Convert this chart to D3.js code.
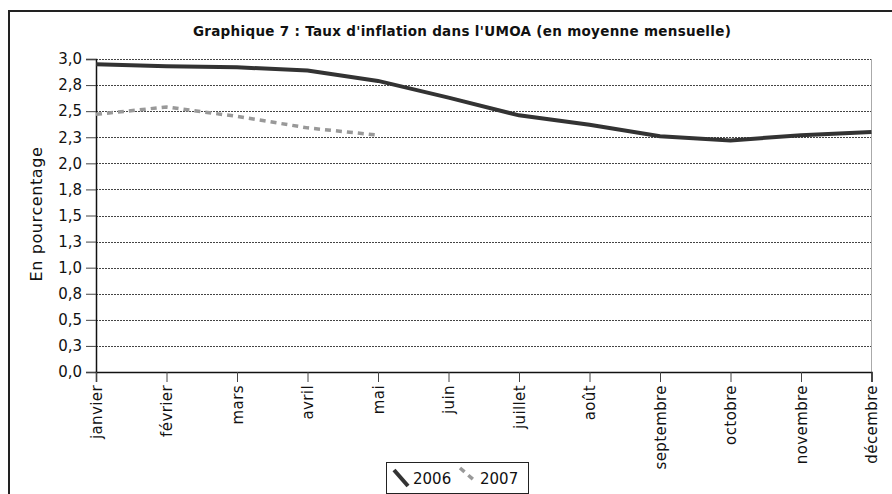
<!DOCTYPE html>
<meta charset="utf-8">
<head>
<style>
  body { margin: 0; background: #fff; }
  svg text { font-family: "DejaVu Sans", sans-serif; fill: #111; }
</style>
</head>
<body>
<script src="https://d3js.org/d3.v7.min.js"></script>
<script>

// Data
var months = ["janvier", "février", "mars", "avril", "mai", "juin", "juillet",
              "août", "septembre", "octobre", "novembre", "décembre"];
var infl2006 = [2.95, 2.93, 2.92, 2.89, 2.79, 2.63, 2.46, 2.37, 2.26, 2.22, 2.27, 2.30];
var infl2007 = [2.47, 2.54, 2.45, 2.34, 2.27];
var yTicks = [0, 0.25, 0.5, 0.75, 1, 1.25, 1.5, 1.75, 2, 2.25, 2.5, 2.75, 3];

var width = 892,
    height = 494;

var svg = d3.select("body").append("svg")
    .attr("width", width)
    .attr("height", height);

// outer frame (open to the right and bottom)
svg.append("path")
    .attr("d", "M9,494 V11 H892")
    .attr("fill", "none")
    .attr("stroke", "#222")
    .attr("stroke-width", 2);

// title
svg.append("text")
    .attr("x", 462)
    .attr("y", 36)
    .attr("text-anchor", "middle")
    .style("font-size", "13.5px")
    .style("font-weight", "bold")
    .style("letter-spacing", "0.3px")
    .text("Graphique 7 : Taux d'inflation dans l'UMOA (en moyenne mensuelle)");

var x = d3.scalePoint()
    .domain(months)
    .range([96, 871.5]);

var y = d3.scaleLinear()
    .domain([0, 3])
    .range([372, 59]);

var fmt = function(d){ return d3.format(".1f")(d).replace(".", ","); };

// gridlines
svg.append("g")
  .selectAll("line")
  .data(yTicks.slice(1))
  .enter().append("line")
    .attr("x1", 96)
    .attr("x2", 871.5)
    .attr("y1", function(d){ return Math.round(y(d)) + 0.5; })
    .attr("y2", function(d){ return Math.round(y(d)) + 0.5; })
    .attr("stroke", "#444")
    .attr("stroke-width", 1)
    .attr("stroke-dasharray", "2,1");

// right border of plot
svg.append("line")
    .attr("x1", 871.5).attr("x2", 871.5)
    .attr("y1", 59).attr("y2", 372)
    .attr("stroke", "#aaa");

// y axis
var yAxis = svg.append("g")
    .attr("transform", "translate(96,0)")
    .call(d3.axisLeft(y).tickValues(yTicks).tickFormat(fmt).tickSize(10).tickPadding(4));
yAxis.select(".domain").attr("stroke", "#111").attr("stroke-width", 1.5);
yAxis.selectAll(".tick line").attr("stroke", "#444");
yAxis.selectAll("text").style("font-size", "15px").attr("fill", "#111");

// x axis
var xAxis = svg.append("g")
    .attr("transform", "translate(0,372)")
    .call(d3.axisBottom(x).tickSize(10));
xAxis.select(".domain").attr("stroke", "#111").attr("stroke-width", 1.5);
xAxis.selectAll(".tick line").attr("stroke", "#444");
xAxis.selectAll("text")
    .style("font-size", "15px")
    .style("letter-spacing", "0.4px")
    .attr("fill", "#111")
    .attr("text-anchor", "end")
    .attr("transform", "rotate(-90)")
    .attr("x", -13)
    .attr("y", 0)
    .attr("dy", "0.35em");

// y label
svg.append("text")
    .attr("transform", "translate(42,214) rotate(-90)")
    .attr("text-anchor", "middle")
    .style("font-size", "16px")
    .style("letter-spacing", "0.6px")
    .text("En pourcentage");

var line = d3.line()
    .x(function(d, i){ return x(months[i]); })
    .y(function(d){ return y(d); });

svg.append("path")
    .datum(infl2007)
    .attr("d", line)
    .attr("fill", "none")
    .attr("stroke", "#999")
    .attr("stroke-width", 3.5)
    .attr("stroke-dasharray", "6,5");

svg.append("path")
    .datum(infl2006)
    .attr("d", line)
    .attr("fill", "none")
    .attr("stroke", "#333")
    .attr("stroke-width", 4);

// legend
var legend = svg.append("g").attr("transform", "translate(386,462)");
legend.append("rect")
    .attr("x", 0.5).attr("y", 0.5)
    .attr("width", 142).attr("height", 31)
    .attr("fill", "#fff")
    .attr("stroke", "#222");
legend.append("line")
    .attr("x1", 8).attr("y1", 8).attr("x2", 22).attr("y2", 24)
    .attr("stroke", "#333").attr("stroke-width", 4);
legend.append("text")
    .attr("x", 27).attr("y", 22)
    .style("font-size", "15px")
    .text("2006");
legend.append("line")
    .attr("x1", 74).attr("y1", 6).attr("x2", 89).attr("y2", 19)
    .attr("stroke", "#999").attr("stroke-width", 3.5)
    .attr("stroke-dasharray", "6,5");
legend.append("text")
    .attr("x", 94).attr("y", 22)
    .style("font-size", "15px")
    .text("2007");

</script>
</body>
